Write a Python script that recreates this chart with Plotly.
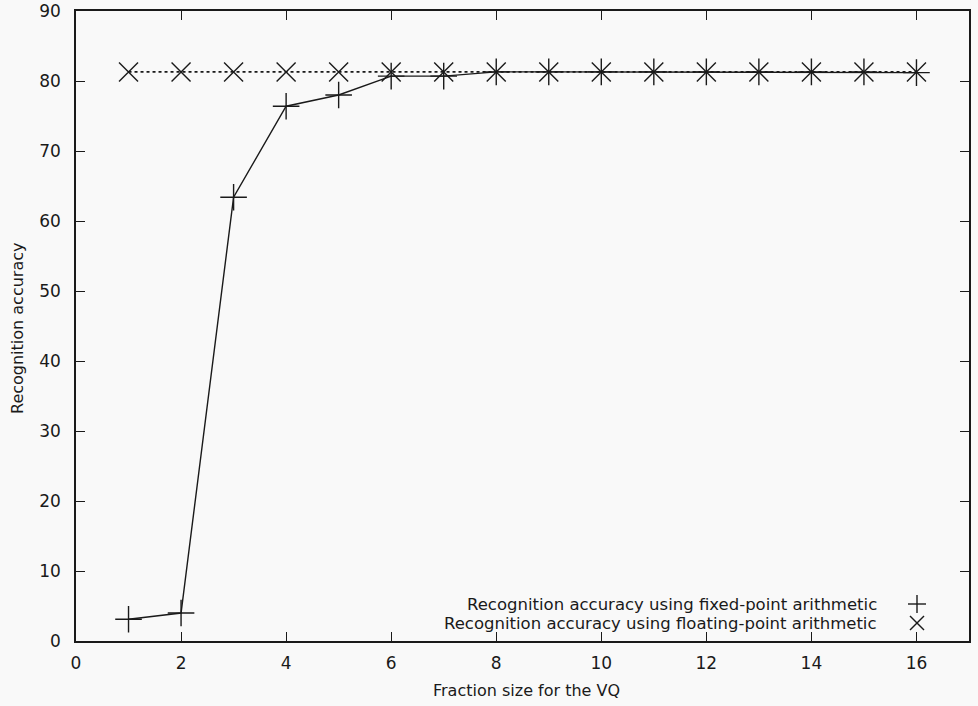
import plotly.graph_objects as go

fraction_size = list(range(1, 17))
fixed_point = [3.1, 4.0, 63.4, 76.4, 78.0, 80.7, 80.7, 81.3, 81.3, 81.3, 81.3, 81.3, 81.3, 81.3, 81.3, 81.2]
floating_point = [81.3] * 16
x_ticks = list(range(0, 17, 2))
y_ticks = list(range(0, 91, 10))
legend_labels = ["Recognition accuracy using fixed-point arithmetic",
                 "Recognition accuracy using floating-point arithmetic"]
x_title = "Fraction size for the VQ"
y_title = "Recognition accuracy"

FONT = "DejaVu Sans, Liberation Sans, Arial, sans-serif"
INK = "#1a1a1a"

fig = go.Figure()
fig.add_trace(go.Scatter(
    x=fraction_size, y=floating_point, mode="lines+markers",
    line=dict(color=INK, width=1.6, dash="dot"),
    marker=dict(symbol="x-thin", size=19, line=dict(color=INK, width=1.4)),
    name=legend_labels[1], showlegend=False))
fig.add_trace(go.Scatter(
    x=fraction_size, y=fixed_point, mode="lines+markers",
    line=dict(color=INK, width=1.4),
    marker=dict(symbol="cross-thin", size=19, line=dict(color=INK, width=1.4)),
    name=legend_labels[0], showlegend=False))

W, H = 978, 706
PL, PR, PT, PB = 76, 969, 11, 641          # plot box in screen pixels
L, R, T, B = PL, W - PR, PT, H - PB
pw, ph = W - L - R, H - T - B
def px(xs): return (xs - L) / pw
def py(ys): return (H - B - ys) / ph

# legend: right-aligned text with key symbols to the right (gnuplot style)
rows = [604, 623]
for lab, yy in zip(legend_labels, rows):
    fig.add_annotation(xref="paper", yref="paper", x=px(879), y=py(yy),
                       text=lab, showarrow=False, xanchor="right", yanchor="middle",
                       font=dict(family=FONT, size=16.5, color=INK))
cx = 917
s = 9
fig.add_shape(type="line", xref="paper", yref="paper", x0=px(cx - s), x1=px(cx + s),
              y0=py(rows[0]), y1=py(rows[0]), line=dict(color=INK, width=1.4))
fig.add_shape(type="line", xref="paper", yref="paper", x0=px(cx), x1=px(cx),
              y0=py(rows[0] - s), y1=py(rows[0] + s), line=dict(color=INK, width=1.4))
d = 7
fig.add_shape(type="line", xref="paper", yref="paper", x0=px(cx - d), x1=px(cx + d),
              y0=py(rows[1] - d), y1=py(rows[1] + d), line=dict(color=INK, width=1.4))
fig.add_shape(type="line", xref="paper", yref="paper", x0=px(cx - d), x1=px(cx + d),
              y0=py(rows[1] + d), y1=py(rows[1] - d), line=dict(color=INK, width=1.4))

# axis titles
fig.add_annotation(xref="paper", yref="paper", x=px(526), y=py(690), text=x_title,
                   showarrow=False, xanchor="center", yanchor="middle",
                   font=dict(family=FONT, size=16, color=INK))
fig.add_annotation(xref="paper", yref="paper", x=px(17), y=py(328), text=y_title,
                   showarrow=False, xanchor="center", yanchor="middle", textangle=-90,
                   font=dict(family=FONT, size=16, color=INK))

axis_common = dict(showgrid=False, zeroline=False, showline=True, linecolor=INK,
                   linewidth=1.6, mirror="allticks", ticks="inside", ticklen=9,
                   tickcolor=INK, tickwidth=1.4, automargin=False,
                   tickfont=dict(family=FONT, size=17, color=INK))

fig.update_xaxes(range=[0, 17], tickvals=x_ticks, ticklabelstandoff=6, **axis_common)
fig.update_yaxes(range=[0, 90], tickvals=y_ticks, ticklabelstandoff=10, **axis_common)

fig.update_layout(width=W, height=H, margin=dict(l=L, r=R, t=T, b=B),
                  paper_bgcolor="#f9f9f9", plot_bgcolor="#f9f9f9")

fig.write_html("out.html", config={"displayModeBar": False},
               post_script="document.body.style.margin='0';document.body.style.overflow='hidden';")
